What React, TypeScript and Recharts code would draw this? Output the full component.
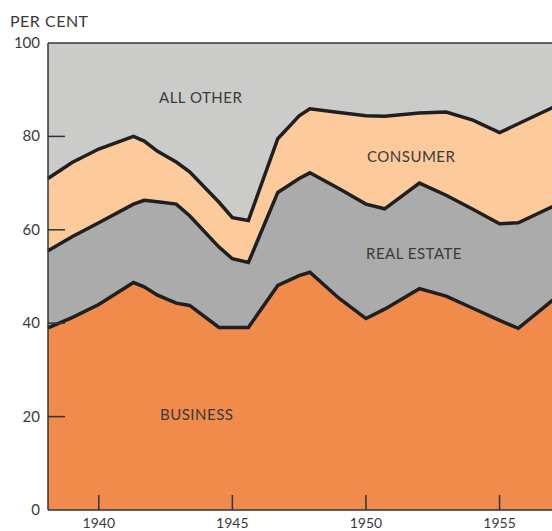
import React from 'react';
import { ComposedChart, Area, Line, XAxis, YAxis } from 'recharts';

const years = [
  1938.1, 1939, 1940, 1941.3, 1941.7, 1942.2, 1942.9, 1943.4, 1944.5, 1945, 1945.6,
  1946.7, 1947.5, 1947.9, 1949, 1950, 1950.7, 1952, 1953, 1954, 1955, 1955.7, 1957,
];

// shares in per cent
const business = [
  39, 41.2, 44, 48.7, 47.8, 46, 44.3, 43.8, 39.1, 39.1, 39.1,
  48.1, 50.2, 50.9, 45.3, 41, 43, 47.4, 45.8, 43.2, 40.6, 38.9, 45,
];
const realEstate = [
  16.5, 17.3, 17.5, 16.8, 18.5, 20, 21.2, 19.2, 17.2, 14.7, 13.9,
  19.9, 20.8, 21.3, 23.5, 24.5, 21.5, 22.6, 21.6, 21.2, 20.7, 22.6, 20,
];
const consumer = [
  15.5, 15.9, 15.8, 14.5, 12.7, 10.8, 9, 9.4, 9.6, 8.8, 9,
  11.5, 13.4, 13.7, 16.3, 18.9, 19.8, 15, 17.8, 19.1, 19.5, 21.2, 21.2,
];
const allOther = [
  29, 25.6, 22.7, 20, 21, 23.2, 25.5, 27.6, 34.1, 37.4, 38,
  20.5, 15.6, 14.1, 14.9, 15.6, 15.7, 15, 14.8, 16.5, 19.2, 17.3, 13.8,
];

const xTicks = [1940, 1945, 1950, 1955];
const yTicks = [0, 20, 40, 60, 80, 100];

const data = years.map((year, i) => ({
  year,
  business: business[i],
  realEstate: realEstate[i],
  consumer: consumer[i],
  allOther: allOther[i],
}));

const FONT = 'Lato, "Liberation Sans", sans-serif';
const TEXT = '#3a3a3a';
const LINE = '#1f1f1f';

const YTick = (props: any) => {
  const { x, y, payload } = props;
  const showMark = payload.value !== 0 && payload.value !== 100;
  return (
    <g>
      {showMark && <line x1={x + 8} x2={x + 25} y1={y} y2={y} stroke="#333" strokeWidth={1.5} />}
      <text x={x} y={y} dy={5} textAnchor="end" fontSize={15} fill={TEXT} fontFamily={FONT}>
        {payload.value}
      </text>
    </g>
  );
};

const XTick = (props: any) => {
  const { x, y, payload } = props;
  return (
    <g>
      <line x1={x} x2={x} y1={y - 4} y2={y - 19} stroke="#333" strokeWidth={1.5} />
      <text x={x} y={y} dy={14} textAnchor="middle" fontSize={14} fill={TEXT} fontFamily={FONT}>
        {payload.value}
      </text>
    </g>
  );
};

const labelStyle: React.CSSProperties = {
  position: 'absolute',
  fontFamily: FONT,
  fontSize: 15,
  color: TEXT,
  letterSpacing: 0.5,
  whiteSpace: 'nowrap',
};

const areaProps = { type: 'linear' as const, stackId: '1', fillOpacity: 1, stroke: 'none', isAnimationActive: false };
const lineProps = { type: 'linear' as const, stroke: LINE, strokeWidth: 3.5, dot: false, activeDot: false, isAnimationActive: false };

export default function App() {
  return (
    <div
      style={{
        position: 'absolute',
        left: 0,
        top: 0,
        width: 552,
        height: 531,
        overflow: 'hidden',
        background: '#fff',
      }}
    >
      <div style={{ ...labelStyle, left: 10, top: 11, fontSize: 16 }}>PER CENT</div>
      <ComposedChart
        width={560}
        height={531}
        data={data}
        margin={{ top: 43, right: 7, bottom: 0, left: 0 }}
      >
        <XAxis
          dataKey="year"
          type="number"
          domain={[1938.1, 1957]}
          ticks={xTicks}
          tick={<XTick />}
          tickLine={false}
          tickSize={0}
          tickMargin={4}
          height={21}
          axisLine={{ stroke: '#333', strokeWidth: 1.5 }}
        />
        <YAxis
          type="number"
          domain={[0, 100]}
          ticks={yTicks}
          tick={<YTick />}
          tickLine={false}
          tickSize={0}
          tickMargin={8}
          width={48}
          axisLine={{ stroke: '#333', strokeWidth: 1.5 }}
        />
        <Area {...areaProps} dataKey="business" fill="#f08b4c" />
        <Area {...areaProps} dataKey="realEstate" fill="#aaabaa" />
        <Area {...areaProps} dataKey="consumer" fill="#fdcb9b" />
        <Area {...areaProps} dataKey="allOther" fill="#cbcbc9" stroke="#333" strokeWidth={1.5} />
        <Line {...lineProps} dataKey={(d: any) => d.business} />
        <Line {...lineProps} dataKey={(d: any) => d.business + d.realEstate} />
        <Line {...lineProps} dataKey={(d: any) => d.business + d.realEstate + d.consumer} />
      </ComposedChart>
      <div style={{ ...labelStyle, left: 159, top: 88 }}>ALL OTHER</div>
      <div style={{ ...labelStyle, left: 367, top: 147 }}>CONSUMER</div>
      <div style={{ ...labelStyle, left: 366, top: 244 }}>REAL ESTATE</div>
      <div style={{ ...labelStyle, left: 160, top: 405 }}>BUSINESS</div>
    </div>
  );
}
